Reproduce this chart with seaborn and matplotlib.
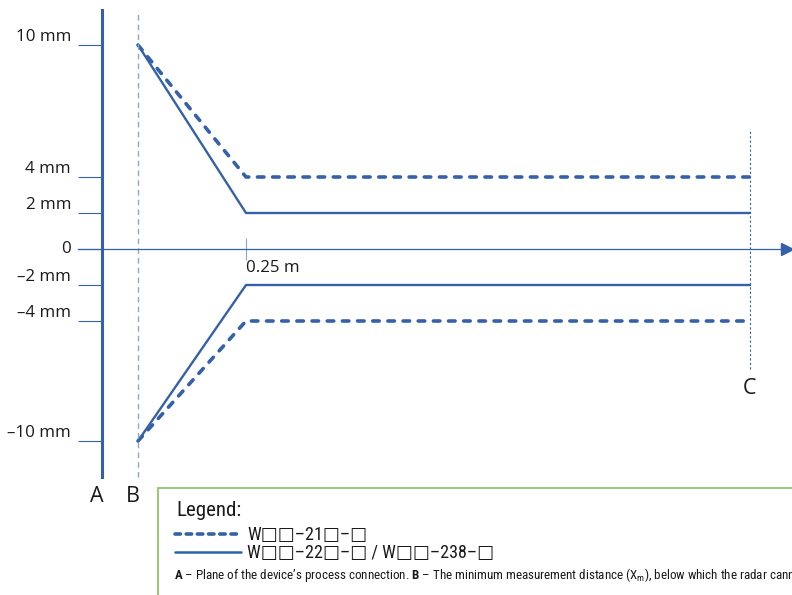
import numpy as np
import pandas as pd
import matplotlib
matplotlib.use("Agg")
import matplotlib.pyplot as plt
from matplotlib import font_manager
from matplotlib.lines import Line2D
from matplotlib.patches import Rectangle
import seaborn as sns

# ---------------- data ----------------
x_points = [0.0625, 0.25, 1.125]          # B, 0.25 m, C  (m)
dashed_upper = [10, 4, 4]                 # W..-21.-. (mm)
dashed_lower = [-10, -4, -4]
solid_upper = [10, 2, 2]                  # W..-22.-. / W..-238-.
solid_lower = [-10, -2, -2]
ytick_values = [10, 4, 2, 0, -2, -4, -10]
ytick_labels = ["10 mm", "4 mm", "2 mm", "0", "–2 mm", "–4 mm", "–10 mm"]
xtick_values = [0.25]
xtick_labels = ["0.25 m"]
x_A = 0.0
x_B = 0.0625
x_C = 1.125
series_dashed = "W\u25a1\u25a1\u201321\u25a1\u2013\u25a1"
series_solid = "W\u25a1\u25a1\u201322\u25a1\u2013\u25a1 / W\u25a1\u25a1\u2013238\u2013\u25a1"

BLUE = "#3461a8"
LIGHTBLUE = "#8aa6d4"
GREEN = "#8cc56b"
TXT = "#1a1a1a"

sns.set_theme(style="white")
names = {f.name for f in font_manager.fontManager.ttflist}
main_font = "Open Sans" if "Open Sans" in names else "DejaVu Sans"
narrow = None
for cand in ["Liberation Sans Narrow", "Roboto Condensed", "Open Sans Condensed", "DejaVu Sans Condensed"]:
    if cand in names:
        narrow = cand
        break
if narrow is None:
    narrow = main_font
plt.rcParams["font.family"] = [main_font, "DejaVu Sans"]
plt.rcParams["mathtext.fontset"] = "custom"
plt.rcParams["mathtext.rm"] = narrow
plt.rcParams["mathtext.bf"] = narrow + ":bold"
plt.rcParams["mathtext.it"] = narrow + ":italic"

# piecewise-linear y scale of the schematic drawing (px per mm)
def fwd(y):
    y = np.asarray(y, dtype=float)
    a = np.abs(y)
    slope = np.where(y >= 0, 22.0, 20.0)
    return np.sign(y) * np.where(a <= 4, a * 18.0, 72.0 + (a - 4) * slope)

def inv(v):
    v = np.asarray(v, dtype=float)
    a = np.abs(v)
    slope = np.where(v >= 0, 22.0, 20.0)
    return np.sign(v) * np.where(a <= 72, a / 18.0, 4 + (a - 72) / slope)

W, H = 792, 595
fig = plt.figure(figsize=(W / 100, H / 100), dpi=100)
ax = fig.add_axes([0, 0, 1, 1])
ax.set_facecolor("none")
ax.set_yscale("function", functions=(fwd, inv))
ax.set_xlim(-102 / 576, (W - 102) / 576)
ax.set_ylim(float(inv(249 - H)), float(inv(249)))

def ypx(p):  # pixel row -> data y
    return float(inv(249 - p))

def xpx(p):
    return (p - 102) / 576

DASH = (0, (1.8, 2.4))

# lines
df_d = pd.DataFrame({"x": x_points * 2, "y": dashed_upper + dashed_lower,
                     "u": ["up"] * 3 + ["lo"] * 3})
df_s = pd.DataFrame({"x": x_points * 2, "y": solid_upper + solid_lower,
                     "u": ["up"] * 3 + ["lo"] * 3})
sns.lineplot(data=df_d, x="x", y="y", units="u", estimator=None, sort=False,
             color=BLUE, lw=2.6, ax=ax, legend=False)
for ln in ax.lines:
    ln.set_linestyle(DASH)
    ln.set_dash_capstyle("round")
n_d = len(ax.lines)
sns.lineplot(data=df_s, x="x", y="y", units="u", estimator=None, sort=False,
             color=BLUE, lw=1.7, ax=ax, legend=False)
for ln in ax.lines[n_d:]:
    ln.set_linestyle("-")

# reference verticals B and C
ax.vlines(x_B, ypx(477), ypx(10), color=LIGHTBLUE, lw=1.0, linestyles=(0, (4, 3)))
ax.vlines(x_C, ypx(369), ypx(129), color=BLUE, lw=0.8, linestyles=(0, (2, 2)))

# spines as axes
for s in ["top", "right"]:
    ax.spines[s].set_visible(False)
ax.spines["left"].set_position(("data", x_A))
ax.spines["left"].set_bounds(ypx(477), ypx(10))
ax.spines["left"].set_color(BLUE)
ax.spines["left"].set_linewidth(2.2)
ax.spines["bottom"].set_position(("data", 0))
ax.spines["bottom"].set_bounds(xpx(78), xpx(786))
ax.spines["bottom"].set_color(BLUE)
ax.spines["bottom"].set_linewidth(0.9)
ax.plot([xpx(787)], [0], marker=">", ms=8.5, color=BLUE, mec=BLUE, clip_on=False)

ax.set_yticks(ytick_values, ytick_labels)
ax.yaxis.set_minor_locator(matplotlib.ticker.NullLocator())
ax.tick_params(axis="y", direction="out", length=17.3, width=0.8, color=BLUE,
               pad=5.0, labelsize=12.2, labelcolor=TXT, left=True)
for lab, v in zip(ax.get_yticklabels(), ytick_values):
    lab.set_va("bottom" if v != 0 else "center")

ax.set_xticks(xtick_values, xtick_labels)
ax.xaxis.set_minor_locator(matplotlib.ticker.NullLocator())
ax.tick_params(axis="x", direction="inout", length=16.5, width=0.8, color=LIGHTBLUE,
               pad=0.0, labelsize=12.2, labelcolor=TXT, bottom=True)
for lab in ax.get_xticklabels():
    lab.set_ha("left")
ax.set_xlabel("")
ax.set_ylabel("")
ax.grid(False)

# point labels
ax.text(xpx(97), ypx(497), "A", ha="center", va="center", fontsize=15.5, color=TXT)
ax.text(xpx(133), ypx(497), "B", ha="center", va="center", fontsize=15.5, color=TXT)
ax.text(xpx(750), ypx(389), "C", ha="center", va="center", fontsize=15.5, color=TXT)

# legend box
fig.add_artist(Rectangle((158 / W, -0.1), 1.0, (H - 488) / H + 0.1,
                         transform=fig.transFigure, fill=False, ec=GREEN, lw=1.3))
fig.text(176 / W, 1 - 510 / H, "Legend:", ha="left", va="center", fontsize=15,
         family=[narrow, "DejaVu Sans"], color=TXT)
handles = [Line2D([], [], color=BLUE, lw=2.6, linestyle=(0, (1.5, 1.6)), dash_capstyle="round"),
           Line2D([], [], color="#2a62ad", lw=1.8)]
leg = ax.legend(handles, [series_dashed, series_solid],
                loc="center left", bbox_to_anchor=(175 / W, 1 - 544 / H),
                bbox_transform=fig.transFigure, frameon=False,
                prop={"family": [narrow, "DejaVu Sans"], "size": 13.0},
                handlelength=3.65, handleheight=0.5, handletextpad=0.35, labelspacing=0.0,
                borderpad=0, borderaxespad=0)
for t in leg.get_texts():
    t.set_color(TXT)

fig.text(174 / W, 1 - 575 / H,
         r"$\mathbf{A}$ – Plane of the device’s process connection. $\mathbf{B}$ – The minimum "
         r"measurement distance (X$_\mathrm{m}$), below which the radar cannot measure.",
         ha="left", va="center", fontsize=9.4, family=[narrow, "DejaVu Sans"], color=TXT)

fig.savefig("out.png", dpi=100)
